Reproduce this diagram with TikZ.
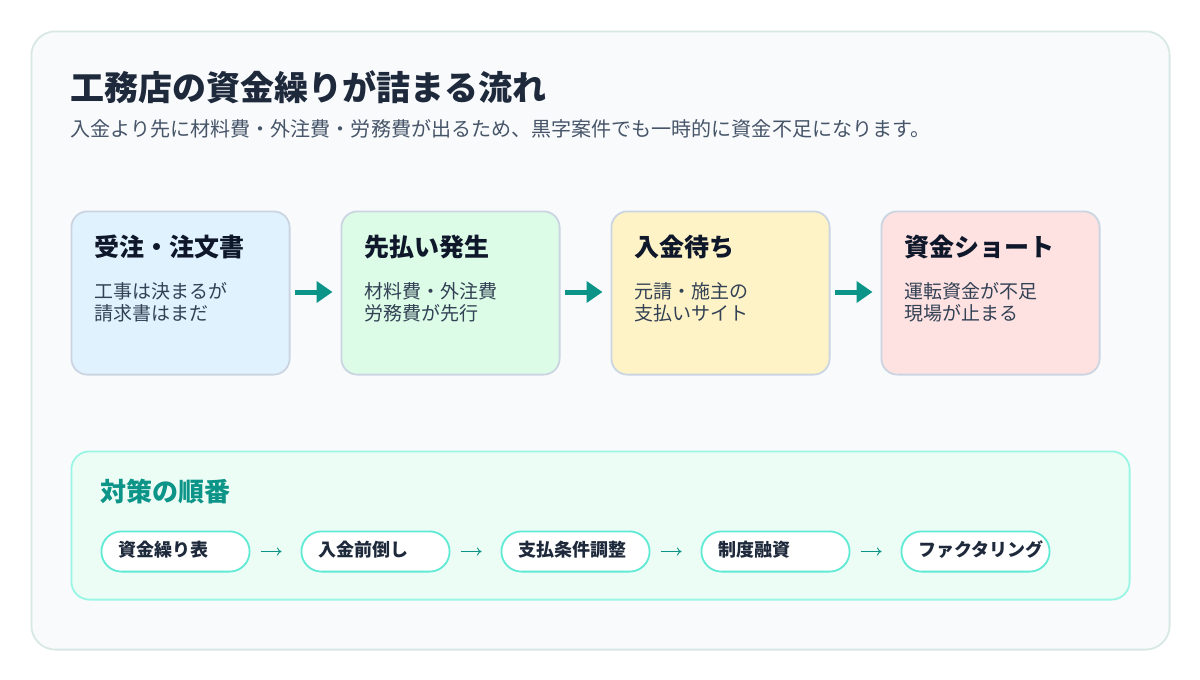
\documentclass[tikz,border=0pt]{standalone}
\usepackage{fontspec}
\setmainfont{Noto Sans CJK JP}
\usetikzlibrary{arrows.meta,calc}
\definecolor{outerfill}{HTML}{F8FAFC}
\definecolor{outerline}{HTML}{D8E8E5}
\definecolor{titlecol}{HTML}{1E293B}
\definecolor{subcol}{HTML}{475569}
\definecolor{cardline}{HTML}{CBD5E1}
\definecolor{headcol}{HTML}{0F172A}
\definecolor{bodycol}{HTML}{334155}
\definecolor{teal}{HTML}{0D9488}
\definecolor{panelfill}{HTML}{ECFDF5}
\definecolor{panelline}{HTML}{99F6E4}
\definecolor{pillline}{HTML}{5EEAD4}
\tikzset{
  x=1pt,y=-1pt,
  cardbox/.style={draw=cardline,line width=1.8pt,rounded corners=16pt,minimum width=218.2pt,minimum height=163.2pt,inner sep=0pt},
  cardhead/.style={anchor=west,inner sep=0pt,font=\fontsize{25pt}{28pt}\selectfont\bfseries,text=headcol},
  cardbody/.style={anchor=north west,inner sep=0pt,align=left,font=\fontsize{19pt}{22pt}\selectfont,text=bodycol},
  bigarrow/.style={draw=teal,line width=5pt,-{Triangle[length=16pt,width=21pt,fill=teal]},shorten <=4.5pt,shorten >=8pt},
  pillbox/.style={draw=pillline,fill=white,line width=1.8pt,rounded corners=20pt,minimum width=148.2pt,minimum height=40.2pt,inner sep=0pt},
  pilltext/.style={anchor=west,inner sep=0pt,font=\fontsize{18pt}{20pt}\selectfont\bfseries,text=titlecol},
  thinarrow/.style={draw=teal,line width=0.9pt,-{To[length=4.5pt,width=8pt]},shorten <=10pt,shorten >=19pt},
}
\begin{document}
\begin{tikzpicture}
\useasboundingbox (0,0) rectangle (1200,680);
\fill[white] (0,0) rectangle (1200,680);
\node[draw=outerline,fill=outerfill,line width=1.8pt,rounded corners=24pt,minimum width=1138.2pt,minimum height=618.2pt,inner sep=0pt] (outer) at (600.5,340.5) {};
\node[anchor=west,inner sep=0pt,font=\fontsize{34pt}{38pt}\selectfont\bfseries,text=titlecol] (title) at (70,87) {工務店の資金繰りが詰まる流れ};
\node[anchor=west,inner sep=0pt,font=\fontsize{20.05pt}{24pt}\selectfont,text=subcol] (sub) at (70.5,129) {入金より先に材料費・外注費・労務費が出るため、黒字案件でも一時的に資金不足になります。};

\node[cardbox,fill={rgb,255:red,224;green,242;blue,254}] (c1) at (180.5,293) {};
\node[cardbox,fill={rgb,255:red,220;green,252;blue,231}] (c2) at (450.5,293) {};
\node[cardbox,fill={rgb,255:red,254;green,243;blue,199}] (c3) at (720.5,293) {};
\node[cardbox,fill={rgb,255:red,254;green,226;blue,226}] (c4) at (990.5,293) {};

\node[cardhead] (h1) at (94,247) {受注・注文書};
\node[cardhead] (h2) at (364,247) {先払い発生};
\node[cardhead] (h3) at (634,247) {入金待ち};
\node[cardhead] (h4) at (904,247) {資金ショート};

\node[cardbody] (b1) at (94,282.2) {工事は決まるが\\請求書はまだ};
\node[cardbody] (b2) at (364,282.2) {材料費・外注費\\労務費が先行};
\node[cardbody] (b3) at (634,282.2) {元請・施主の\\支払いサイト};
\node[cardbody] (b4) at (904,282.2) {運転資金が不足\\現場が止まる};

\draw[bigarrow,transform canvas={yshift=1pt}] (c1.east) -- (c2.west);
\draw[bigarrow,transform canvas={yshift=1pt}] (c2.east) -- (c3.west);
\draw[bigarrow,transform canvas={yshift=1pt}] (c3.east) -- (c4.west);

\node[draw=panelline,fill=panelfill,line width=1.8pt,rounded corners=18pt,minimum width=1058.2pt,minimum height=148.2pt,inner sep=0pt] (panel) at (600.5,525.5) {};
\node[anchor=west,inner sep=0pt,font=\fontsize{26pt}{30pt}\selectfont\bfseries,text=teal] (plan) at (100,492) {対策の順番};

\node[pillbox] (p1) at (175.5,551.5) {};
\node[pillbox] (p2) at (375.5,551.5) {};
\node[pillbox] (p3) at (575.5,551.5) {};
\node[pillbox] (p4) at (775.5,551.5) {};
\node[pillbox] (p5) at (975.5,551.5) {};
\node[pilltext] (t1) at (118.3,549.6) {資金繰り表};
\node[pilltext] (t2) at (318.3,549.6) {入金前倒し};
\node[pilltext] (t3) at (518.3,549.6) {支払条件調整};
\node[pilltext] (t4) at (718.3,549.6) {制度融資};
\node[pilltext] (t5) at (918.3,549.2) {ファクタリング};
\draw[thinarrow] (p1.east) -- (p2.west);
\draw[thinarrow] (p2.east) -- (p3.west);
\draw[thinarrow] (p3.east) -- (p4.west);
\draw[thinarrow] (p4.east) -- (p5.west);
\end{tikzpicture}
\end{document}
